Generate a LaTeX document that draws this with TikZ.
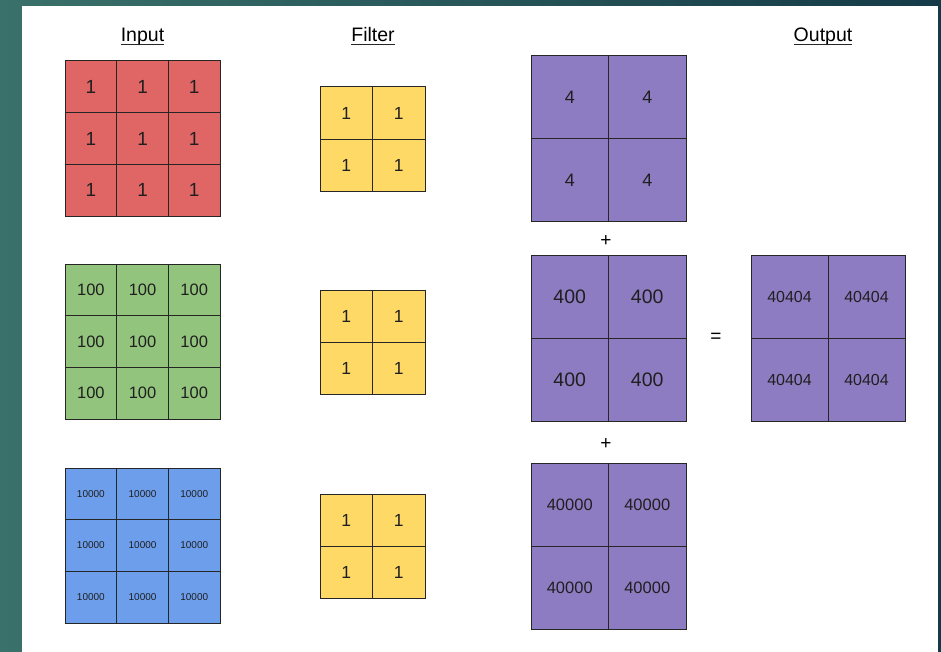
\documentclass[tikz,border=0pt]{standalone}
\usepackage{fontspec}
\setmainfont{Liberation Sans}
\usetikzlibrary{positioning}

\definecolor{bgLeft}{HTML}{3A716A}
\definecolor{bgRight}{HTML}{143A47}
\definecolor{inRed}{HTML}{E06666}
\definecolor{inGreen}{HTML}{93C47D}
\definecolor{inBlue}{HTML}{6D9EEB}
\definecolor{filtYellow}{HTML}{FFD966}
\definecolor{outPurple}{HTML}{8E7CC3}

\newcommand{\fs}[1]{\fontsize{#1pt}{#1pt}\selectfont}

\tikzset{
  cell/.style={draw=black!85, line width=1pt, inner sep=0pt, text=black!88},
  incell/.style={cell, minimum width=51.7pt, minimum height=51.7pt},
  fcell/.style={cell, fill=filtYellow, minimum width=52.5pt, minimum height=52.2pt, font=\fs{17.5}},
  pcell/.style={cell, fill=outPurple, minimum width=77.5pt, minimum height=83pt},
  title/.style={inner sep=0pt, anchor=base, font=\fs{19.5}},
  uline/.style={line width=1.3pt, black!85},
  op/.style={inner sep=0pt, font=\fs{19}}
}

\begin{document}
\begin{tikzpicture}[x=1pt, y=-1pt]

  % --- 1. 背景 ---
  \useasboundingbox (0,0) rectangle (941,652);
  \shade[left color=bgLeft, right color=bgRight] (0,0) rectangle (941,652);
  \fill[white] (22,6) rectangle (938,652);

  % --- 2. 見出し ---
  \node[title] (tIn)   at (142.5,42) {Input};
  \node[title] (tFilt) at (373,42)   {Filter};
  \node[title] (tOut)  at (823,42)   {Output};
  \foreach \t in {tIn, tFilt, tOut}
    \draw[uline] ([yshift=-2.3pt]\t.base west) -- ([yshift=-2.3pt]\t.base east);

  % --- 3. 入力 (3x3) ---
  \foreach \r in {1,2,3}
    \foreach \c in {1,2,3} {
      \node[incell, fill=inRed, font=\fs{19}]   (red-\r-\c)   at ({65+51.7*(\c-0.5)}, {61+51.7*(\r-0.5)})  {1};
      \node[incell, fill=inGreen, font=\fs{16.5}] (green-\r-\c) at ({65+51.7*(\c-0.5)}, {264+51.7*(\r-0.5)}) {100};
      \node[incell, fill=inBlue, font=\fs{10}]  (blue-\r-\c)  at ({65+51.7*(\c-0.5)}, {468+51.7*(\r-0.5)}) {10000};
    }

  % --- 4. フィルタ (2x2) ---
  \foreach \y [count=\k] in {87, 290, 494}
    \foreach \r in {1,2}
      \foreach \c in {1,2}
        \node[fcell] (filt\k-\r-\c) at ({320+52.5*(\c-0.5)}, {\y+52.2*(\r-0.5)}) {1};

  % --- 5. 各チャネルの結果 ---
  \foreach \r in {1,2}
    \foreach \c in {1,2} {
      \node[pcell, font=\fs{18}]   (sumA-\r-\c) at ({531+77.5*(\c-0.5)}, {56+83*(\r-0.5)})  {4};
      \node[pcell, font=\fs{19.5}] (sumB-\r-\c) at ({531+77.5*(\c-0.5)}, {255+83*(\r-0.5)}) {400};
      \node[pcell, font=\fs{16.5}] (sumC-\r-\c) at ({531+77.5*(\c-0.5)}, {463+83*(\r-0.5)}) {40000};
      \node[pcell, minimum width=77pt, font=\fs{16}] (out-\r-\c) at ({751+77*(\c-0.5)}, {255+83.5*(\r-0.5)}) {40404};
    }

  % --- 6. 演算記号 ---
  \node[op] (plusA) at (606,241) {+};
  \node[op] (plusB) at (606,444) {+};
  \node[op] (eq)    at (716,338) {=};

\end{tikzpicture}
\end{document}
